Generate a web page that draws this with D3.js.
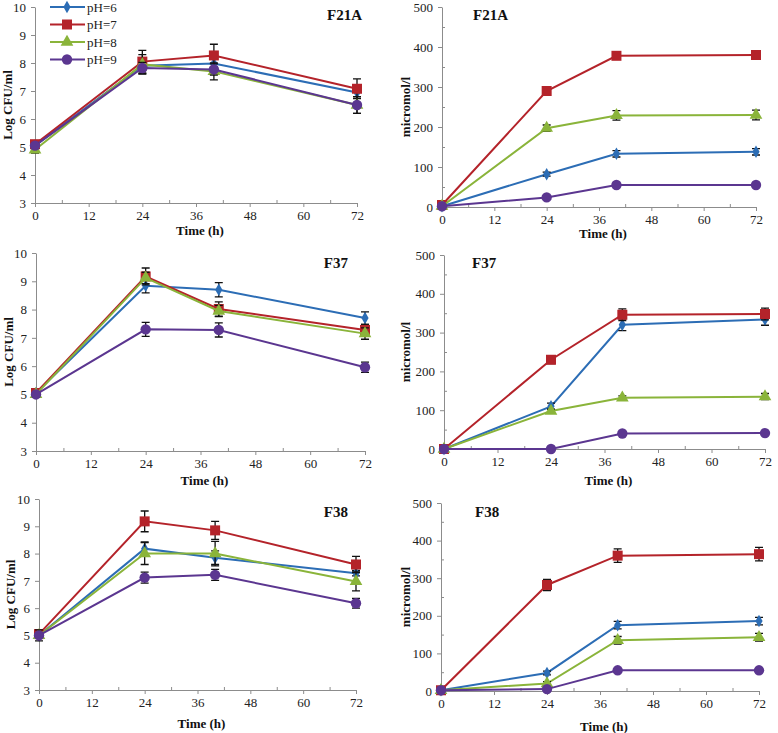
<!DOCTYPE html>
<html>
<head>
<meta charset="utf-8">
<script src="https://cdn.jsdelivr.net/npm/d3@7"></script>
<style>
  body { margin: 0; background: #fff; }
  svg { display: block; font-family: "Liberation Serif", "Times New Roman", serif; }
  .axis path, .axis line { stroke: #8c8c8c; }
  .axis text { fill: #222; font-size: 13px; font-family: "Liberation Serif", serif; }
  .ttl { font-weight: bold; font-size: 13px; fill: #111; }
  .plab { font-weight: bold; font-size: 15px; fill: #111; }
</style>
</head>
<body>
<svg width="778" height="733"></svg>
<script>
// Data
const times = [0, 24, 40, 72];
const seriesNames = ["pH=6", "pH=7", "pH=8", "pH=9"];
const colors = ["#2c6db5", "#b4232a", "#8ab43a", "#5b3690"];
const cfuTicks = [3, 4, 5, 6, 7, 8, 9, 10];
const micTicks = [0, 100, 200, 300, 400, 500];
const timeTicks = [0, 12, 24, 36, 48, 60, 72];

// rows: pH=6, pH=7, pH=8, pH=9
const f21aCfu = [[5.05, 7.9, 7.98, 6.95], [5.1, 8.05, 8.27, 7.08], [4.9, 7.95, 7.7, 6.5], [5.05, 7.82, 7.77, 6.5]];
const f21aCfuErr = [[0.1, 0.15, 0.15, 0.15], [0.12, 0.4, 0.4, 0.35], [0.12, 0.35, 0.3, 0.3], [0.1, 0.2, 0.2, 0.3]];
const f21aMic = [[2, 82, 133, 138], [5, 290, 378, 380], [2, 197, 229, 230], [2, 24, 55, 55]];
const f21aMicErr = [[0, 5, 8, 8], [0, 5, 5, 5], [0, 8, 12, 12], [0, 3, 3, 3]];

const f37Cfu = [[5.05, 8.84, 8.7, 7.7], [5.05, 9.17, 8.02, 7.28], [5.0, 9.12, 7.95, 7.15], [5.0, 7.3, 7.28, 5.96]];
const f37CfuErr = [[0.1, 0.25, 0.25, 0.22], [0.1, 0.3, 0.25, 0.2], [0.1, 0.2, 0.2, 0.2], [0.1, 0.25, 0.25, 0.18]];
const f37Mic = [[0, 110, 320, 334], [0, 230, 346, 348], [0, 98, 132, 135], [0, 0, 40, 41]];
const f37MicErr = [[0, 8, 15, 15], [0, 10, 15, 15], [0, 5, 5, 8], [0, 2, 3, 3]];

const f38Cfu = [[5.0, 8.18, 7.85, 7.28], [5.05, 9.18, 8.85, 7.6], [5.0, 8.0, 8.0, 6.98], [5.0, 7.12, 7.22, 6.18]];
const f38CfuErr = [[0.1, 0.25, 0.25, 0.1], [0.1, 0.38, 0.33, 0.3], [0.1, 0.4, 0.45, 0.35], [0.2, 0.2, 0.2, 0.18]];
const f38Mic = [[2, 48, 175, 186], [2, 282, 360, 364], [2, 20, 135, 143], [2, 5, 55, 55]];
const f38MicErr = [[0, 5, 10, 10], [0, 15, 18, 18], [0, 5, 10, 10], [0, 2, 3, 3]];

const svg = d3.select("svg");

const symbols = [
  d3.symbol().type(d3.symbolDiamond).size(45),
  d3.symbol().type(d3.symbolSquare).size(100),
  d3.symbol().type(d3.symbolTriangle).size(70),
  d3.symbol().type(d3.symbolCircle).size(85),
];

// Panel frames
const panels = [
  { vals: f21aCfu, errs: f21aCfuErr, kind: "cfu", label: "F21A", x0: 35, x1: 357, yB: 203, yT: 7, lx: 362, ly: 20, anchor: "end", ylx: 7, tl: 28, legend: true },
  { vals: f21aMic, errs: f21aMicErr, kind: "mic", label: "F21A", x0: 442, x1: 756, yB: 207, yT: 7, lx: 473, ly: 20, anchor: "start", ylx: 405, tl: 27 },
  { vals: f37Cfu, errs: f37CfuErr, kind: "cfu", label: "F37", x0: 36, x1: 365, yB: 451, yT: 253, lx: 348, ly: 268, anchor: "end", ylx: 8, tl: 30 },
  { vals: f37Mic, errs: f37MicErr, kind: "mic", label: "F37", x0: 444, x1: 765, yB: 449, yT: 255, lx: 472, ly: 268, anchor: "start", ylx: 405, tl: 32 },
  { vals: f38Cfu, errs: f38CfuErr, kind: "cfu", label: "F38", x0: 39, x1: 356, yB: 690, yT: 499, lx: 348, ly: 517, anchor: "end", ylx: 10, tl: 34 },
  { vals: f38Mic, errs: f38MicErr, kind: "mic", label: "F38", x0: 441, x1: 759, yB: 691, yT: 503, lx: 475, ly: 517, anchor: "start", ylx: 405, tl: 36 },
];

panels.forEach((p) => {
  const x = d3.scaleLinear().domain([0, 72]).range([p.x0, p.x1]);
  const y = p.kind === "cfu"
    ? d3.scaleLinear().domain([3, 10]).range([p.yB, p.yT])
    : d3.scaleLinear().domain([0, 500]).range([p.yB, p.yT]);
  const g = svg.append("g");

  // minor ticks
  g.append("g").attr("class", "axis")
    .attr("transform", `translate(0,${p.yB})`)
    .call(d3.axisTop(x).tickValues([6, 18, 30, 42, 54, 66]).tickSize(3).tickFormat(""))
    .call((a) => a.select(".domain").remove());
  if (p.kind === "mic") {
    g.append("g").attr("class", "axis")
      .attr("transform", `translate(${p.x0},0)`)
      .call(d3.axisRight(y).tickValues([50, 150, 250, 350, 450]).tickSize(3).tickFormat(""))
      .call((a) => a.select(".domain").remove());
  }

  // axes
  g.append("g").attr("class", "axis")
    .attr("transform", `translate(0,${p.yB})`)
    .call(d3.axisBottom(x).tickValues(timeTicks).tickSize(4).tickSizeOuter(0).tickPadding(4));
  g.append("g").attr("class", "axis")
    .attr("transform", `translate(${p.x0},0)`)
    .call(d3.axisLeft(y).tickValues(p.kind === "cfu" ? cfuTicks : micTicks)
      .tickFormat(d3.format("d")).tickSize(4).tickSizeOuter(0).tickPadding(5));

  // titles
  g.append("text").attr("class", "ttl")
    .attr("x", (p.x0 + p.x1) / 2 + 4).attr("y", p.yB + p.tl + 4)
    .attr("text-anchor", "middle").text("Time (h)");
  g.append("text").attr("class", "ttl")
    .attr("transform", `translate(${p.ylx + 5},${(p.yB + p.yT) / 2}) rotate(-90)`)
    .attr("text-anchor", "middle").text(p.kind === "cfu" ? "Log  CFU/ml" : "micromol/l");
  g.append("text").attr("class", "plab")
    .attr("x", p.lx).attr("y", p.ly).attr("text-anchor", p.anchor).text(p.label);

  const line = d3.line().x((d) => x(d[0])).y((d) => y(d[1]));

  p.vals.forEach((vals, si) => {
    const pts = times.map((t, i) => [t, vals[i], p.errs[si][i]]);
    const sg = g.append("g");
    sg.append("path").datum(pts)
      .attr("d", line).attr("fill", "none")
      .attr("stroke", colors[si]).attr("stroke-width", 2);
    // error bars
    pts.filter((d) => d[2] > 0).forEach((d) => {
      const cx = x(d[0]), ya = y(d[1] + d[2]), yb = y(d[1] - d[2]);
      sg.append("path")
        .attr("d", `M${cx},${ya}V${yb}M${cx - 4},${ya}H${cx + 4}M${cx - 4},${yb}H${cx + 4}`)
        .attr("stroke", "#111").attr("stroke-width", 1.3).attr("fill", "none");
    });
    sg.selectAll(".mk").data(pts).enter().append("path")
      .attr("transform", (d) => `translate(${x(d[0])},${y(d[1])})`)
      .attr("d", symbols[si]).attr("fill", colors[si]);
  });

  if (p.legend) {
    const lg = g.append("g");
    seriesNames.forEach((name, si) => {
      const ly = 7 + si * 17.5;
      lg.append("line").attr("x1", 50).attr("x2", 85).attr("y1", ly).attr("y2", ly)
        .attr("stroke", colors[si]).attr("stroke-width", 2);
      lg.append("path").attr("transform", `translate(67,${ly})`)
        .attr("d", symbols[si]).attr("fill", colors[si]);
      lg.append("text").attr("x", 87).attr("y", ly + 4.5)
        .style("font-size", "13px").attr("fill", "#222").text(name);
    });
  }
});
</script>
</body>
</html>
